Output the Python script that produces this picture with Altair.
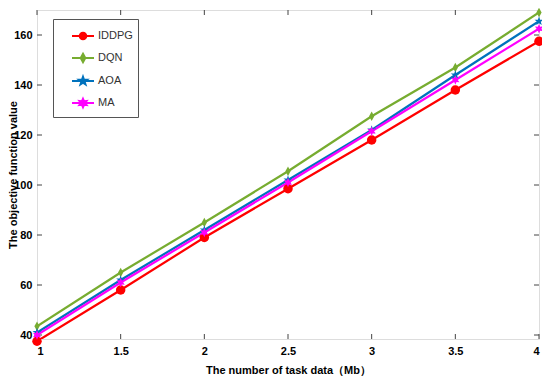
import altair as alt
import pandas as pd
import re

x_vals = [1, 1.5, 2, 2.5, 3, 3.5, 4]
series_names = ["IDDPG", "DQN", "AOA", "MA"]
iddpg = [37.5, 58, 79, 98.5, 118, 138, 157.5]
dqn = [43.5, 65, 85, 105.5, 127.5, 147, 169]
aoa = [41, 62, 82, 102, 122, 144, 165.5]
ma = [40, 61, 81, 101, 121.5, 142, 162.5]
colors = ["#FF0000", "#77AC30", "#0072BD", "#FF00FF"]
y_ticks = [40, 60, 80, 100, 120, 140, 160]
x_ticks = [1, 1.5, 2, 2.5, 3, 3.5, 4]

W, H = 502, 329
Y_DOMAIN = [38.4, 170]

rows = []
for name, vals in zip(series_names, [iddpg, dqn, aoa, ma]):
    for xv, yv in zip(x_vals, vals):
        rows.append({"x": xv, "y": yv, "series": name})
df = pd.DataFrame(rows)

circle = "circle"
diamond = "M0,-1L0.55,0L0,1L-0.55,0Z"
pent = ("M0,-1L0.235,-0.324L0.951,-0.309L0.380,0.124L0.588,0.809L0,0.4"
        "L-0.588,0.809L-0.380,0.124L-0.951,-0.309L-0.235,-0.324Z")
hexa = ("M0,-1L0.25,-0.433L0.866,-0.5L0.5,0L0.866,0.5L0.25,0.433L0,1"
        "L-0.25,0.433L-0.866,0.5L-0.5,0L-0.866,-0.5L-0.25,-0.433Z")
shapes = [circle, diamond, pent, hexa]


def scale_path(p, s):
    return re.sub(r"-?\d+\.?\d*", lambda m: str(round(float(m.group(0)) * s, 3)), p)


leg_circle = "M-1,0H1M0.3,0A0.3,0.3,0,1,1,-0.3,0A0.3,0.3,0,1,1,0.3,0Z"
leg_paths = [leg_circle] + ["M-1,0H1" + scale_path(p, 0.38) for p in shapes[1:]]

LABEL_FONT = "Liberation Sans Narrow, Arial Narrow, Liberation Sans"

xs = alt.Scale(domain=[1, 4], nice=False, zero=False)
ys = alt.Scale(domain=Y_DOMAIN, nice=False, zero=False)
cs = alt.Scale(domain=series_names, range=colors)

base = alt.Chart(df)

x_axis = alt.Axis(
    values=x_ticks, title="The number of task data（Mb）", format="~g",
    grid=False, domain=False, ticks=False, labelPadding=6,
    labelFont=LABEL_FONT, labelFontWeight="bold", labelFontSize=11,
    labelColor="#000", titleFont=LABEL_FONT, titleFontWeight="bold",
    titleFontSize=11, titleColor="#000", titlePadding=8)
y_axis = alt.Axis(
    values=y_ticks, title="The objective function value",
    grid=False, domain=False, ticks=False, labelPadding=5,
    labelFont=LABEL_FONT, labelFontWeight="bold", labelFontSize=11,
    labelColor="#000", titleFont="Liberation Sans", titleFontWeight="bold",
    titleFontSize=11, titleColor="#000", titleX=-24, titleY=H / 2,
    titleAngle=270, titleAlign="center", titleBaseline="middle")

legend_layer = base.mark_point(filled=True, size=0, opacity=1, strokeWidth=2).encode(
    x=alt.X("x:Q", scale=xs, axis=x_axis),
    y=alt.Y("y:Q", scale=ys, axis=y_axis),
    color=alt.Color("series:N", scale=cs, sort=series_names, legend=alt.Legend(
        title=None, orient="none", legendX=16, legendY=9,
        symbolSize=484, symbolStrokeWidth=2, symbolOffset=13, symbolOpacity=1,
        padding=5, rowPadding=2, labelOffset=3,
        labelFont=LABEL_FONT, labelFontSize=11, labelColor="#333",
        strokeColor="#555", fillColor="#ffffff")),
    stroke=alt.Stroke("series:N", scale=cs, sort=series_names),
    shape=alt.Shape("series:N", sort=series_names,
                    scale=alt.Scale(domain=series_names, range=leg_paths)),
)

lines = base.mark_line(strokeWidth=2.2, clip=True).encode(
    x=alt.X("x:Q", scale=xs),
    y=alt.Y("y:Q", scale=ys),
    color=alt.Color("series:N", scale=cs, sort=series_names),
    detail="series:N",
)

marker_layers = []
for name, col, shp in zip(series_names, colors, shapes):
    marker_layers.append(
        base.transform_filter(alt.datum.series == name)
        .mark_point(filled=True, size=90, opacity=1, shape=shp, color=col)
        .encode(x=alt.X("x:Q", scale=xs), y=alt.Y("y:Q", scale=ys))
    )

ydf = pd.DataFrame({"v": y_ticks})
xdf = pd.DataFrame({"v": x_ticks})
TICK = 5
tick_col = "#444"
yl = alt.Chart(ydf).mark_rule(color=tick_col, strokeWidth=1).encode(
    y=alt.Y("v:Q", scale=ys), x=alt.value(0), x2=alt.value(TICK))
yr = alt.Chart(ydf).mark_rule(color=tick_col, strokeWidth=1).encode(
    y=alt.Y("v:Q", scale=ys), x=alt.value(W), x2=alt.value(W - TICK))
xb = alt.Chart(xdf).mark_rule(color=tick_col, strokeWidth=1).encode(
    x=alt.X("v:Q", scale=xs), y=alt.value(H), y2=alt.value(H - TICK))
xt = alt.Chart(xdf).mark_rule(color=tick_col, strokeWidth=1).encode(
    x=alt.X("v:Q", scale=xs), y=alt.value(0), y2=alt.value(TICK))

chart = alt.layer(legend_layer, yl, yr, xb, xt, lines, *marker_layers).properties(
    width=W, height=H,
    autosize=alt.AutoSizeParams(type="none"),
    padding={"left": 29, "top": 2, "right": 3, "bottom": 40},
).configure_view(stroke="#444", strokeWidth=1).configure(background="#ffffff")

chart.save("out.html", embed_options={"renderer": "svg", "actions": False})
